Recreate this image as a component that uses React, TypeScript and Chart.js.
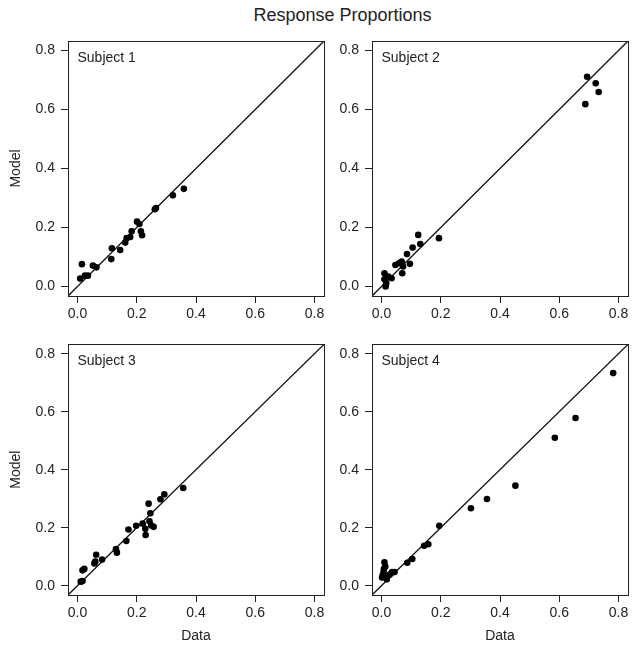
import React, { useEffect, useRef } from "react";
import { Chart, registerables } from "chart.js";

Chart.register(...registerables);

const TITLE = "Response Proportions";
const X_LABEL = "Data";
const Y_LABEL = "Model";
const AXIS_MIN = -0.032;
const AXIS_MAX = 0.832;
const TICK_VALUES = [0, 0.2, 0.4, 0.6, 0.8];
const TICK_LABELS = ["0.0", "0.2", "0.4", "0.6", "0.8"];
const PANEL_NAMES = ["Subject 1", "Subject 2", "Subject 3", "Subject 4"];

const subject1Data = [0.009, 0.015, 0.025, 0.035, 0.052, 0.064, 0.114, 0.116, 0.144, 0.161, 0.166, 0.178, 0.183, 0.201, 0.209, 0.214, 0.218, 0.261, 0.265, 0.322, 0.359];
const subject1Model = [0.027, 0.076, 0.037, 0.037, 0.071, 0.065, 0.093, 0.130, 0.124, 0.149, 0.164, 0.168, 0.187, 0.220, 0.212, 0.187, 0.174, 0.262, 0.266, 0.309, 0.331];

const subject2Data = [0.014, 0.016, 0.010, 0.010, 0.023, 0.034, 0.047, 0.059, 0.068, 0.073, 0.070, 0.086, 0.096, 0.105, 0.124, 0.131, 0.194, 0.688, 0.694, 0.723, 0.733];
const subject2Model = [0.000, 0.011, 0.025, 0.045, 0.034, 0.028, 0.073, 0.079, 0.085, 0.068, 0.045, 0.110, 0.077, 0.132, 0.175, 0.144, 0.164, 0.618, 0.711, 0.689, 0.659];

const subject3Data = [0.011, 0.017, 0.017, 0.023, 0.057, 0.060, 0.063, 0.083, 0.130, 0.133, 0.165, 0.172, 0.198, 0.220, 0.229, 0.230, 0.240, 0.246, 0.243, 0.249, 0.257, 0.280, 0.293, 0.357];
const subject3Model = [0.014, 0.016, 0.053, 0.058, 0.077, 0.083, 0.107, 0.090, 0.126, 0.114, 0.154, 0.194, 0.207, 0.214, 0.196, 0.175, 0.283, 0.250, 0.222, 0.208, 0.203, 0.298, 0.315, 0.337];

const subject4Data = [0.010, 0.013, 0.008, 0.007, 0.004, 0.013, 0.018, 0.025, 0.030, 0.036, 0.044, 0.002, 0.087, 0.104, 0.144, 0.158, 0.195, 0.302, 0.356, 0.452, 0.585, 0.655, 0.782];
const subject4Model = [0.081, 0.066, 0.058, 0.047, 0.036, 0.030, 0.022, 0.036, 0.040, 0.047, 0.047, 0.028, 0.079, 0.092, 0.138, 0.143, 0.207, 0.267, 0.299, 0.345, 0.510, 0.578, 0.733];

const SERIES = [
  [subject1Data, subject1Model],
  [subject2Data, subject2Model],
  [subject3Data, subject3Model],
  [subject4Data, subject4Model],
];

const FONT = "'Liberation Sans', Arial, Helvetica, sans-serif";
const INK = "#222";

type Layout = {
  left: number; top: number; width: number; height: number;
  yWidth: number; xHeight: number; padTop: number; padRight: number;
  showY: boolean; showX: boolean;
};

const LAYOUTS: Layout[] = [
  { left: 0, top: 0, width: 330, height: 330, yWidth: 68, xHeight: 34, padTop: 41, padRight: 6, showY: true, showX: false },
  { left: 330, top: 0, width: 309, height: 330, yWidth: 42, xHeight: 34, padTop: 41, padRight: 11, showY: false, showX: false },
  { left: 0, top: 330, width: 330, height: 323, yWidth: 68, xHeight: 58, padTop: 9, padRight: 6, showY: true, showX: true },
  { left: 330, top: 330, width: 309, height: 323, yWidth: 42, xHeight: 58, padTop: 9, padRight: 11, showY: false, showX: true },
];

function Panel({ index }: { index: number }) {
  const ref = useRef<HTMLCanvasElement | null>(null);
  const lay = LAYOUTS[index];
  useEffect(() => {
    if (!ref.current) return;
    const [xs, ys] = SERIES[index];
    const points = xs.map((x, i) => ({ x, y: ys[i] }));
    const boxPlugin = {
      id: "boxAndLabel" + index,
      afterDraw(chart: any) {
        const { ctx, chartArea } = chart;
        ctx.save();
        ctx.strokeStyle = INK;
        ctx.lineWidth = 1;
        ctx.strokeRect(
          Math.round(chartArea.left) + 0.5,
          Math.round(chartArea.top) + 0.5,
          Math.round(chartArea.right - chartArea.left),
          Math.round(chartArea.bottom - chartArea.top)
        );
        ctx.fillStyle = INK;
        ctx.font = `14px ${FONT}`;
        ctx.textBaseline = "alphabetic";
        ctx.textAlign = "left";
        ctx.fillText(PANEL_NAMES[index], chartArea.left + 9.5, chartArea.top + 21);
        ctx.restore();
      },
    };
    const tickCfg = {
      font: { family: FONT, size: 14 },
      color: INK,
      callback: (v: number) => {
        const k = TICK_VALUES.findIndex((t) => Math.abs(t - v) < 1e-9);
        return k >= 0 ? TICK_LABELS[k] : "";
      },
    };
    const setTicks = (scale: any) => {
      scale.ticks = TICK_VALUES.map((v) => ({ value: v }));
    };
    const chart = new Chart(ref.current, {
      type: "scatter",
      data: {
        datasets: [
          {
            data: points,
            backgroundColor: "#000",
            borderColor: "#000",
            pointRadius: 3.3,
            pointHoverRadius: 3.3,
            borderWidth: 0,
          },
          {
            type: "line",
            data: [
              { x: AXIS_MIN, y: AXIS_MIN },
              { x: AXIS_MAX, y: AXIS_MAX },
            ],
            borderColor: "#111",
            borderWidth: 1.3,
            pointRadius: 0,
            fill: false,
            showLine: true,
          } as any,
        ],
      },
      options: {
        animation: false,
        responsive: false,
        devicePixelRatio: 1,
        events: [],
        layout: { padding: { top: lay.padTop, right: lay.padRight, left: 0, bottom: 0 } },
        plugins: { legend: { display: false }, tooltip: { enabled: false }, title: { display: false } },
        scales: {
          x: {
            type: "linear",
            min: AXIS_MIN,
            max: AXIS_MAX,
            afterBuildTicks: setTicks,
            afterFit: (s: any) => { s.height = lay.xHeight; },
            border: { display: false },
            grid: { display: true, drawOnChartArea: false, drawTicks: true, tickLength: 7, tickColor: INK, tickWidth: 1 },
            ticks: { ...tickCfg, padding: 3, maxRotation: 0, autoSkip: false },
            title: {
              display: lay.showX,
              text: X_LABEL,
              font: { family: FONT, size: 14 },
              color: INK,
              padding: { top: 0, bottom: 8 },
            },
          },
          y: {
            type: "linear",
            min: AXIS_MIN,
            max: AXIS_MAX,
            afterBuildTicks: setTicks,
            afterFit: (s: any) => { s.width = lay.yWidth; },
            border: { display: false },
            grid: { display: true, drawOnChartArea: false, drawTicks: true, tickLength: 7, tickColor: INK, tickWidth: 1 },
            ticks: { ...tickCfg, padding: 6, autoSkip: false },
            title: {
              display: lay.showY,
              text: Y_LABEL,
              font: { family: FONT, size: 14 },
              color: INK,
              padding: { top: 8, bottom: 0 },
            },
          },
        },
      } as any,
      plugins: [boxPlugin],
    });
    return () => chart.destroy();
  }, [index]);
  return (
    <canvas
      ref={ref}
      width={lay.width}
      height={lay.height}
      style={{ position: "absolute", left: lay.left, top: lay.top, width: lay.width, height: lay.height }}
    />
  );
}

export default function App() {
  return (
    <div style={{ position: "absolute", left: 0, top: 0, width: 639, height: 653, background: "#fff", overflow: "hidden" }}>
      <div
        style={{
          position: "absolute",
          left: 0,
          top: 5,
          width: 685,
          textAlign: "center",
          fontFamily: FONT,
          fontSize: 18,
          color: INK,
          whiteSpace: "nowrap",
        }}
      >
        {TITLE}
      </div>
      {[0, 1, 2, 3].map((i) => (
        <Panel key={i} index={i} />
      ))}
    </div>
  );
}
